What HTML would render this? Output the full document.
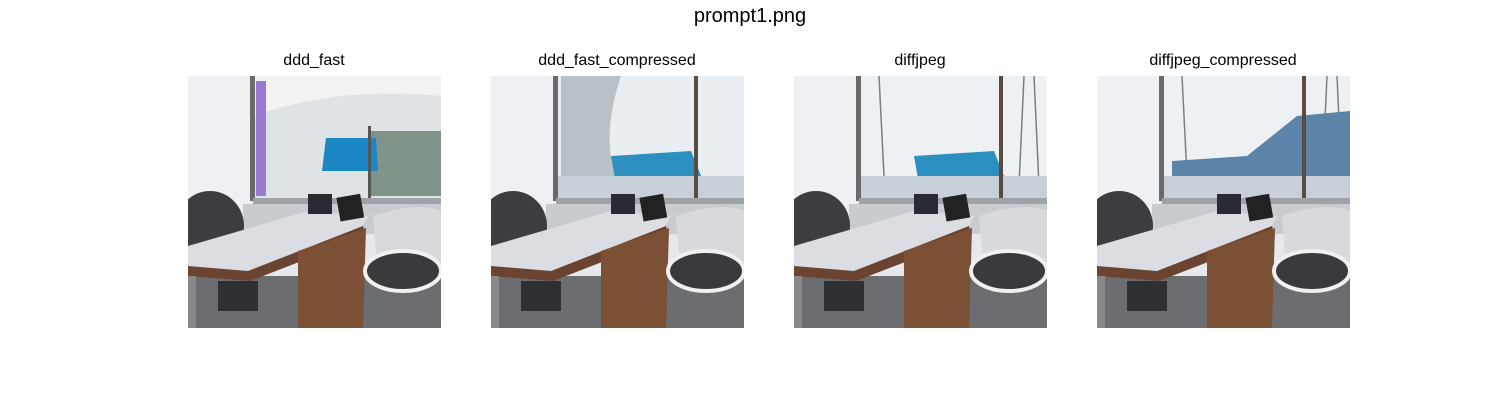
<!DOCTYPE html>
<html><head><meta charset="utf-8">
<style>
html,body{margin:0;padding:0;background:#fff;}
body{width:1500px;height:400px;position:relative;overflow:hidden;font-family:"Liberation Sans","DejaVu Sans",sans-serif;}
.t{position:absolute;color:#000;white-space:nowrap;transform:translateX(-50%);}
svg.p{position:absolute;top:76px;width:253px;height:252px;}
</style></head><body>
<div class="t" style="left:750px;top:5px;font-size:20px;">prompt1.png</div>
<div class="t" style="left:314px;top:52px;font-size:16px;">ddd_fast</div>
<div class="t" style="left:617px;top:52px;font-size:16px;">ddd_fast_compressed</div>
<div class="t" style="left:920px;top:52px;font-size:16px;">diffjpeg</div>
<div class="t" style="left:1223px;top:52px;font-size:16px;">diffjpeg_compressed</div>
<div id="root"></div>
<script>
const panels=['ddd_fast','ddd_fast_compressed','diffjpeg','diffjpeg_compressed'];
const lefts=[188,491,794,1097];
function scene(i){
 let win;
 if(i===0){
  win=`<rect x="65" y="0" width="188" height="125" fill="#dfe3e6"/>
  <path d="M65 40 Q150 10 253 20 L253 0 L65 0Z" fill="#f2f2f2"/>
  <rect x="180" y="55" width="73" height="65" fill="#7f9388"/>
  <rect x="68" y="5" width="10" height="115" fill="#9a7ad0"/>
  <polygon points="138,62 188,62 190,95 134,95" fill="#1a86c4"/>
  <rect x="180" y="50" width="3" height="75" fill="#555"/>`;
 }else{
  const sh=i===1?'#e9eef2':'#eef1f4';
  win=`<rect x="65" y="0" width="188" height="125" fill="${sh}"/>
  ${i===1?'<path d="M70 0 L130 0 Q110 60 125 100 L70 110Z" fill="#b9c0c6"/>':''}
  ${i>=2?'<g stroke="#7a7f86" stroke-width="1.5"><line x1="85" y1="0" x2="90" y2="100"/><line x1="230" y1="0" x2="225" y2="110"/><line x1="240" y1="0" x2="245" y2="110"/></g>':''}
  <polygon points="${i===3?'75,85 150,80 200,40 253,35 253,110 75,110':'120,80 200,75 210,100 125,108'}" fill="${i===3?'#5b84a8':'#2c8fc0'}"/>
  <rect x="65" y="100" width="188" height="25" fill="#c7d0d8"/>
  <rect x="${i===1?203:205}" y="0" width="4" height="130" fill="#5a4a40"/>`;
 }
 return `<rect width="253" height="252" fill="#e6e8ec"/>
 <rect width="65" height="252" fill="#eef0f4"/>
 ${win}
 <rect x="62" y="0" width="5" height="125" fill="#6a6a6a"/>
 <rect x="65" y="122" width="188" height="6" fill="#9ea3a8"/>
 <rect x="55" y="128" width="198" height="30" fill="#c8cbcf"/>
 <rect x="0" y="200" width="253" height="52" fill="#6b6d70"/>
 <ellipse cx="22" cy="150" rx="34" ry="35" fill="#3b3d42"/>
 <polygon points="0,170 120,135 180,140 175,150 60,195 0,195" fill="#dcdde2"/>
 <polygon points="0,190 60,195 175,150 178,160 62,205 0,200" fill="#6a4430"/>
 <polygon points="110,175 178,152 175,252 110,252" fill="#7c5034"/>
 <rect x="0" y="200" width="8" height="52" fill="#888"/>
 <rect x="120" y="118" width="24" height="20" fill="#2a2a35"/>
 <rect x="150" y="120" width="24" height="24" fill="#222" transform="rotate(-10 160 130)"/>
 <path d="M185 140 Q230 125 253 135 L253 200 L190 205Z" fill="#d8d9dc"/>
 <ellipse cx="215" cy="195" rx="38" ry="20" fill="#3a3a3e" stroke="#f0f0f0" stroke-width="4"/>
 <rect x="30" y="205" width="40" height="30" fill="#2f3034"/>`;
}
const root=document.getElementById('root');
panels.forEach((p,i)=>{
 const s=document.createElementNS('http://www.w3.org/2000/svg','svg');
 s.setAttribute('class','p');
 s.setAttribute('viewBox','0 0 253 252');
 s.style.left=lefts[i]+'px';
 
 
 s.innerHTML=scene(i);
 root.appendChild(s);
});
</script>
</body></html>
